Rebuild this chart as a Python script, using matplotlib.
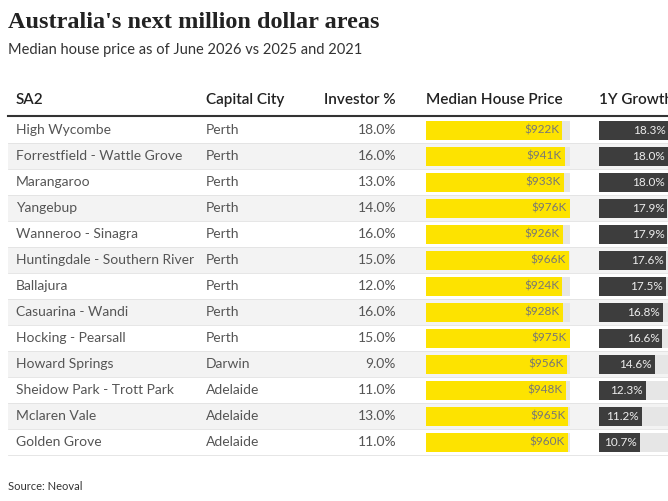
import matplotlib
matplotlib.use("Agg")
import matplotlib.pyplot as plt

sa2 = ["High Wycombe", "Forrestfield - Wattle Grove", "Marangaroo", "Yangebup",
       "Wanneroo - Sinagra", "Huntingdale - Southern River", "Ballajura",
       "Casuarina - Wandi", "Hocking - Pearsall", "Howard Springs",
       "Sheidow Park - Trott Park", "Mclaren Vale", "Golden Grove"]
city = ["Perth"] * 9 + ["Darwin", "Adelaide", "Adelaide", "Adelaide"]
investor = [18.0, 16.0, 13.0, 14.0, 16.0, 15.0, 12.0, 16.0, 15.0, 9.0, 11.0, 13.0, 11.0]
price_k = [922, 941, 933, 976, 926, 966, 924, 928, 975, 956, 948, 965, 960]
growth = [18.3, 18.0, 18.0, 17.9, 17.9, 17.6, 17.5, 16.8, 16.6, 14.6, 12.3, 11.2, 10.7]

plt.rcParams["font.family"] = ["Lato", "DejaVu Sans"]
fig = plt.figure(figsize=(6.68, 5.01), dpi=100)
ax = fig.add_axes([0, 0, 1, 1])
ax.set_xlim(0, 668); ax.set_ylim(501, 0); ax.axis("off")

fig.text(8 / 668, 1 - 22 / 501, "Australia's next million dollar areas", fontsize=17.5,
         fontweight="bold", family="Liberation Serif", va="center", color="#222")
fig.text(8 / 668, 1 - 50 / 501, "Median house price as of June 2026 vs 2025 and 2021",
         fontsize=10.5, va="center", color="#333")

hy = 100
hk = dict(fontsize=11, va="center", color="#222", fontweight="semibold")
ax.text(16, hy, "SA2", **hk)
ax.text(206, hy, "Capital City", **hk)
ax.text(396, hy, "Investor %", ha="right", **hk)
ax.text(426, hy, "Median House Price", **hk)
ax.text(599, hy, "1Y Growth", **hk)
ax.plot([8, 668], [116, 116], color="#333", lw=1.5)

rh = 26
y0 = 117
pmax, pw, px = max(price_k), 144, 426
gmax, gw, gx = max(growth), 70, 599
ck = dict(fontsize=10, va="center", color="#555")
for i in range(len(sa2)):
    yc = y0 + rh * i + rh / 2
    if i % 2 == 1:
        ax.add_patch(plt.Rectangle((8, y0 + rh * i), 660, rh, color="#f3f3f3", lw=0))
    ax.plot([8, 668], [y0 + rh * (i + 1)] * 2, color="#e2e2e2", lw=0.6)
    ax.text(16, yc, sa2[i], **ck)
    ax.text(206, yc, city[i], **ck)
    ax.text(396, yc, f"{investor[i]:.1f}%", ha="right", **ck)
    ax.barh(yc, pw, left=px, height=19, color="#e6e6e6")
    w = price_k[i] / pmax * pw
    ax.barh(yc, w, left=px, height=19, color="#fde300")
    ax.text(px + w - 3, yc, f"${price_k[i]}K", ha="right", fontsize=8.5, va="center", color="#777")
    ax.barh(yc, gw, left=gx, height=19, color="#e6e6e6")
    g = growth[i] / gmax * gw
    ax.barh(yc, g, left=gx, height=19, color="#3d3d3d")
    ax.text(gx + g - 3, yc, f"{growth[i]:.1f}%", ha="right", fontsize=8.5, va="center", color="#eee")

fig.text(8 / 668, 1 - 486 / 501, "Source: Neoval", fontsize=8, va="center", color="#333")
fig.savefig("out.png", dpi=100)
